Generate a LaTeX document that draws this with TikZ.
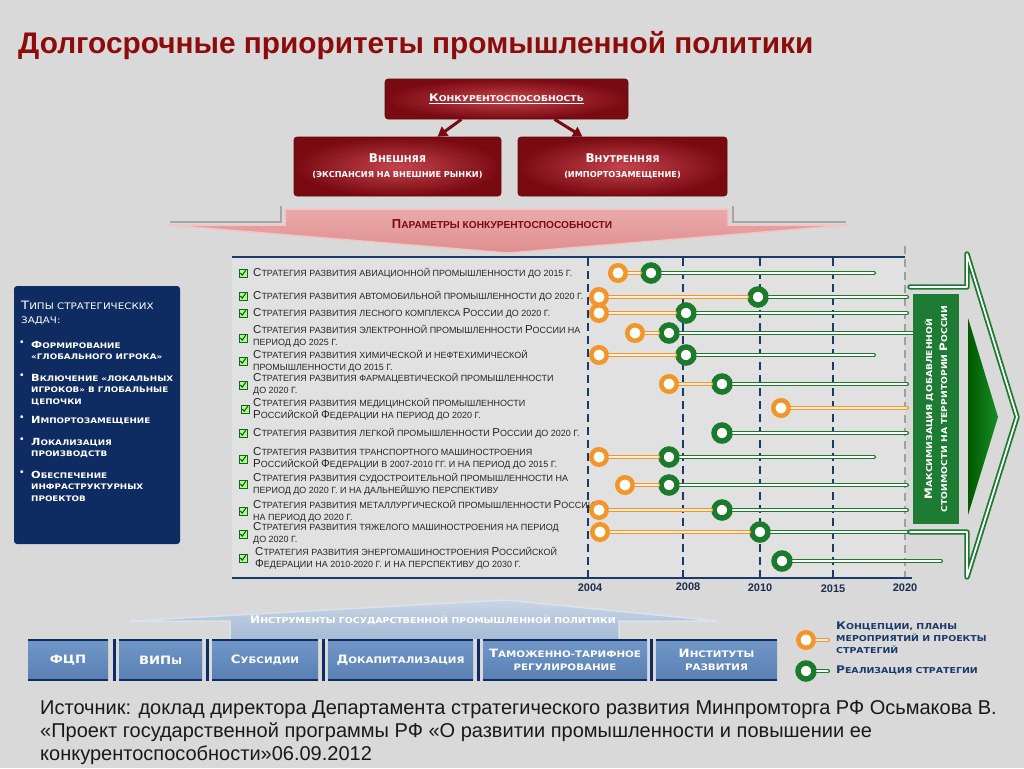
\documentclass[tikz,border=0pt]{standalone}
\usepackage{fontspec}
\setmainfont{Liberation Sans}
\newfontfamily\widefont{DejaVu Sans}
\newfontfamily\wfont[FakeStretch=1.15]{DejaVu Sans}
\usetikzlibrary{calc,arrows.meta}
\makeatletter
\newcommand\smc[1]{{\fontsize{\fpeval{0.78*\f@size}}{\fpeval{0.78*\f@size}}\selectfont\MakeUppercase{#1}}}
\makeatother
\definecolor{bgc}{HTML}{D9D9D9}
\definecolor{titlered}{HTML}{8E0B0B}
\definecolor{redin}{HTML}{C4434B}
\definecolor{redout}{HTML}{7A0A12}
\definecolor{pinkc}{HTML}{DE8E8E}
\definecolor{pinktop}{HTML}{EBAAAA}
\definecolor{pinklight}{HTML}{F2C6C6}
\definecolor{navy}{HTML}{1A3A6C}
\definecolor{boxnavy}{HTML}{0F2C62}
\definecolor{ora}{HTML}{F3962A}
\definecolor{grn}{HTML}{1B7A2C}
\definecolor{dgreen}{HTML}{1E7B34}
\definecolor{steeltop}{HTML}{7097C8}
\definecolor{steelbot}{HTML}{5A80B3}
\definecolor{lsteeltop}{HTML}{C8D5E5}
\definecolor{lsteelbot}{HTML}{A5BAD4}
\definecolor{panelc}{HTML}{E1E1E1}
\definecolor{yearc}{HTML}{1D2F4D}
\newcommand\stratfont{\fontsize{11.5}{12}\selectfont}
\begin{document}
\begin{tikzpicture}[x=1pt,y=-1pt,
  redbox/.style={shade, inner color=redin, outer color=redout, rounded corners=3pt,
    draw=redout!80!black, line width=0.6pt, text=white, align=center, inner sep=0pt,
    font=\widefont\bfseries\fontsize{10.5}{15}\selectfont},
  redarrow/.style={draw=redout, line width=3pt, -{Triangle[length=9.5pt,width=11pt]}},
  oring/.style={circle, draw=ora, fill=white, line width=4.5pt, minimum size=15.5pt, inner sep=0pt, outer sep=2.25pt},
  gring/.style={circle, draw=grn, fill=white, line width=5.5pt, minimum size=16pt, inner sep=0pt, outer sep=2.75pt},
  oline/.style={draw=ora, line width=1.4pt, double=white!85!ora, double distance=1.2pt, line cap=round},
  gline/.style={draw=grn, line width=1.4pt, double=white, double distance=1.2pt, line cap=round},
  strat/.style={anchor=west, inner sep=0pt, align=left, font=\stratfont, text=black!85},
  chk/.style={rectangle, draw=grn!80!black, fill=green!35!white!80!lime, line width=0.8pt,
    minimum size=8pt, inner sep=0pt,
    path picture={\draw[grn!60!black, line width=1pt, shift={(path picture bounding box.center)}]
      (-2.6,0) -- (-0.8,2.2) -- (2.8,-2.8);}},
  dashv/.style={draw=navy, line width=1.5pt, dash pattern=on 8pt off 5pt},
  year/.style={font=\bfseries\fontsize{11}{11}\selectfont, text=yearc, inner sep=0pt},
  bbox/.style={top color=steeltop, bottom color=steelbot, text=white, align=center,
    minimum height=40pt, inner sep=0pt, font=\wfont\bfseries\fontsize{11.5}{13}\selectfont},
  bline/.style={draw=boxnavy, line width=1.8pt},
  sepline/.style={draw=boxnavy, line width=3pt},
  leftitem/.style={anchor=north west, inner sep=0pt, align=left, text=white,
    font=\wfont\bfseries\fontsize{9.8}{11.5}\selectfont},
  bul/.style={anchor=north west, inner sep=0pt, text=white, font=\bfseries\fontsize{10}{11.5}\selectfont},
  legend/.style={anchor=west, inner sep=0pt, align=left, text=navy,
    font=\wfont\bfseries\fontsize{10.5}{12}\selectfont},
  srcline/.style={anchor=base west, inner sep=0pt, text=black!90, font=\fontsize{20}{20}\selectfont}
]
\useasboundingbox (0,0) rectangle (1024,768);
\fill[bgc] (0,0) rectangle (1024,768);

% title
\node[anchor=base west, inner sep=0pt, text=titlered, font=\bfseries\fontsize{29.8}{30}\selectfont]
  (title) at (18,53) {Долгосрочные приоритеты промышленной политики};

% red boxes
\node[redbox, minimum width=243pt, minimum height=40pt] (top) at (506.5,99)
  {\wfont\fontsize{10.3}{12}\selectfont\underline{К\smc{онкурентоспособность}}};
\node[redbox, minimum width=207pt, minimum height=59pt] (ext) at (397.5,166.5)
  {{\fontsize{12}{15}\selectfont В\smc{нешняя}}\\\smc{(экспансия на внешние рынки)}};
\node[redbox, minimum width=209pt, minimum height=59pt] (int) at (622.5,166.5)
  {{\fontsize{12}{15}\selectfont В\smc{нутренняя}}\\\smc{(импортозамещение)}};
\draw[redarrow] ($(top.south)+(-45,0)$) -- ($(ext.north)+(40,0)$);
\draw[redarrow] ($(top.south)+(48,0)$) -- ($(int.north)+(-40,0)$);

% pink arrow
\shade[top color=pinktop, bottom color=pinkc, draw=pinklight, line width=1.5pt]
  (285,209) -- (728,209) -- (728,225) -- (850,225) -- (508,253) -- (166,225) -- (285,225) -- cycle;
\draw[gray!70, line width=1.5pt] (170,222) -- (281,222) -- (281,206);
\draw[gray!70, line width=1.5pt] (733,206) -- (733,222) -- (846,222);
\node[inner sep=0pt, text=redout, font=\bfseries\fontsize{13}{13}\selectfont] (params) at (502,224)
  {П\smc{араметры конкурентоспособности}};

% strategy panel
\fill[panelc] (232,258) rectangle (905,577);
\draw[dashv] (588,258) -- (588,577);
\draw[dashv] (683,258) -- (683,577);
\draw[dashv] (760,258) -- (760,577);
\draw[dashv] (833,258) -- (833,577);
\draw[gray!75, line width=1.5pt, dash pattern=on 8pt off 5pt] (905,246) -- (905,577);
\draw[navy, line width=2pt] (232,257) -- (905,257);
\draw[navy, line width=2pt] (232,578) -- (912,578);
\node[year] (y2004) at (590,588) {2004};
\node[year] (y2008) at (688,587) {2008};
\node[year] (y2010) at (760,588) {2010};
\node[year] (y2015) at (833,589) {2015};
\node[year] (y2020) at (905,588) {2020};

% checkboxes and texts
\node[chk] (c1) at (243,273) {};
\node[strat] (t1) at (253,273) {С\smc{тратегия развития авиационной промышленности до 2015 г.}};
\node[chk] (c2) at (243,296) {};
\node[strat] (t2) at (253,296) {С\smc{тратегия развития автомобильной промышленности до 2020 г.}};
\node[chk] (c3) at (243,313) {};
\node[strat] (t3) at (253,313) {С\smc{тратегия развития лесного комплекса }Р\smc{оссии до 2020 г.}};
\node[chk] (c4) at (243,338) {};
\node[strat] (t4) at (253,336) {С\smc{тратегия развития электронной промышленности }Р\smc{оссии на}\\\smc{период до 2025 г.}};
\node[chk] (c5) at (243,361) {};
\node[strat] (t5) at (253,361) {С\smc{тратегия развития химической и нефтехимической}\\\smc{промышленности до 2015 г.}};
\node[chk] (c6) at (243,385) {};
\node[strat] (t6) at (253,384) {С\smc{тратегия развития фармацевтической промышленности}\\\smc{до 2020 г.}};
\node[chk] (c7) at (245,409) {};
\node[strat] (t7) at (253,409) {С\smc{тратегия развития медицинской промышленности}\\Р\smc{оссийской }Ф\smc{едерации на период до 2020 г.}};
\node[chk] (c8) at (243,433) {};
\node[strat] (t8) at (253,433) {С\smc{тратегия развития легкой промышленности }Р\smc{оссии до 2020 г.}};
\node[chk] (c9) at (243,459) {};
\node[strat] (t9) at (253,458) {С\smc{тратегия развития транспортного машиностроения}\\Р\smc{оссийской }Ф\smc{едерации в 2007-2010 гг. и на период до 2015 г.}};
\node[chk] (c10) at (243,484) {};
\node[strat] (t10) at (253,484) {С\smc{тратегия развития судостроительной промышленности на}\\\smc{период до 2020 г. и на дальнейшую перспективу}};
\node[chk] (c11) at (243,511) {};
\node[strat] (t11) at (253,511) {С\smc{тратегия развития металлургической промышленности }Р\smc{оссии}\\\smc{на период до 2020 г.}};
\node[chk] (c12) at (243,534) {};
\node[strat] (t12) at (253,533) {С\smc{тратегия развития тяжелого машиностроения на период}\\\smc{до 2020 г.}};
\node[chk] (c13) at (243,558) {};
\node[strat] (t13) at (255,558) {С\smc{тратегия развития энергомашиностроения }Р\smc{оссийской}\\Ф\smc{едерации на 2010-2020 г. и на перспективу до 2030 г.}};

% timelines
\node[oring] (o1) at (618,273) {};  \node[gring] (g1) at (651,273) {};  \coordinate (e1) at (874,273);
\node[oring] (o2) at (599,297) {};  \node[gring] (g2) at (758,297) {};  \coordinate (e2) at (907,297);
\node[oring] (o3) at (599,313) {};  \node[gring] (g3) at (686,313) {};  \coordinate (e3) at (907,313);
\node[oring] (o4) at (635,333) {};  \node[gring] (g4) at (669,333) {};  \coordinate (e4) at (913,333);
\node[oring] (o5) at (599,355) {};  \node[gring] (g5) at (686,355) {};  \coordinate (e5) at (874,355);
\node[oring] (o6) at (669,384) {};  \node[gring] (g6) at (722,384) {};  \coordinate (e6) at (907,384);
\node[oring] (o7) at (781,408) {};  \coordinate (e7) at (907,408);
\node[gring] (g8) at (722,433) {};  \coordinate (e8) at (907,433);
\node[oring] (o9) at (599,457) {};  \node[gring] (g9) at (669,457) {};  \coordinate (e9) at (874,457);
\node[oring] (o10) at (625,485) {}; \node[gring] (g10) at (669,485) {}; \coordinate (e10) at (907,485);
\node[oring] (o11) at (599,510) {}; \node[gring] (g11) at (722,510) {}; \coordinate (e11) at (907,510);
\node[oring] (o12) at (600,532) {}; \node[gring] (g12) at (760,532) {}; \coordinate (e12) at (907,532);
\node[gring] (g13) at (782,561) {}; \coordinate (e13) at (941,561);
\draw[oline] (o1) -- (g1);   \draw[gline] (g1) -- (e1);
\draw[oline] (o2) -- (g2);   \draw[gline] (g2) -- (e2);
\draw[oline] (o3) -- (g3);   \draw[gline] (g3) -- (e3);
\draw[oline] (o4) -- (g4);   \draw[gline] (g4) -- (e4);
\draw[oline] (o5) -- (g5);   \draw[gline] (g5) -- (e5);
\draw[oline] (o6) -- (g6);   \draw[gline] (g6) -- (e6);
\draw[oline] (o7) -- (e7);
\draw[gline] (g8) -- (e8);
\draw[oline] (o9) -- (g9);   \draw[gline] (g9) -- (e9);
\draw[oline] (o10) -- (g10); \draw[gline] (g10) -- (e10);
\draw[oline] (o11) -- (g11); \draw[gline] (g11) -- (e11);
\draw[oline] (o12) -- (g12); \draw[gline] (g12) -- (e12);
\draw[gline] (g13) -- (e13);

% green arrow on the right
\draw[draw=grn, line width=1.8pt, double=white, double distance=1.8pt, line join=round, line cap=round]
  (910,287) -- (967,287) -- (967,254) -- (1017,417) -- (967,577) -- (967,532) -- (910,532);
\node[fill=dgreen, minimum width=46pt, minimum height=230pt, inner sep=0pt] (maxbox) at (936,409) {};
\node[rotate=90, text=white, align=center, inner sep=0pt, font=\wfont\bfseries\fontsize{10.3}{15}\selectfont]
  (maxtext) at (maxbox.center) {М\smc{аксимизация добавленной}\\\smc{стоимости на территории }Р\smc{оссии}};
\shade[left color=green!35!black, right color=grn!85!green] (968,318) -- (998,417) -- (968,515) -- cycle;

% left blue box
\node[fill=boxnavy, rounded corners=3pt, minimum width=166pt, minimum height=258pt, inner sep=0pt] (tasks) at (97,415) {};
\node[anchor=north west, inner sep=0pt, align=left, text=white, font=\wfont\fontsize{11.5}{14}\selectfont]
  (taskstitle) at (21,301) {Т\smc{ипы стратегических}\\\smc{задач:}};
\node[bul] (b1d) at (20,341) {•};
\node[leftitem] (i1) at (31,341) {Ф\smc{ормирование}\\\smc{«глобального игрока»}};
\node[bul] (b2d) at (20,374) {•};
\node[leftitem] (i2) at (31,374) {В\smc{ключение «локальных}\\\smc{игроков» в глобальные}\\\smc{цепочки}};
\node[bul] (b3d) at (20,416) {•};
\node[leftitem] (i3) at (31,416) {И\smc{мпортозамещение}};
\node[bul] (b4d) at (20,438) {•};
\node[leftitem] (i4) at (31,438) {Л\smc{окализация}\\\smc{производств}};
\node[bul] (b5d) at (20,471) {•};
\node[leftitem] (i5) at (31,471) {О\smc{беспечение}\\\smc{инфраструктурных}\\\smc{проектов}};

% instruments arrow
\shade[top color=lsteeltop, bottom color=lsteelbot, draw=lsteeltop!70!white, line width=1.5pt]
  (230,640) -- (230,621) -- (130,621) -- (505,600) -- (717,621) -- (619,621) -- (619,640) -- cycle;
\node[inner sep=0pt, text=white, font=\wfont\bfseries\fontsize{10.5}{11}\selectfont] (instr) at (433,620)
  {И\smc{нструменты государственной промышленной политики}};

% bottom boxes
\node[bbox, minimum width=80pt]  (bx1) at (68,660)    {ФЦП};
\node[bbox, minimum width=83pt]  (bx2) at (160.5,660) {ВИП\smc{ы}};
\node[bbox, minimum width=106pt] (bx3) at (265,660)   {С\smc{убсидии}};
\node[bbox, minimum width=145pt] (bx4) at (400.5,660) {Д\smc{окапитализация}};
\node[bbox, minimum width=164pt] (bx5) at (565,660)   {Т\smc{аможенно-тарифное}\\\smc{регулирование}};
\node[bbox, minimum width=121pt] (bx6) at (716.5,660) {И\smc{нституты}\\\smc{развития}};
\foreach \b in {bx1,bx2,bx3,bx4,bx5,bx6}{
  \draw[bline] (\b.north west) -- (\b.north east);
  \draw[bline] (\b.south west) -- (\b.south east);
}
\draw[sepline] (114,639) -- (114,681);
\draw[sepline] (207,639) -- (207,681);
\draw[sepline] (323,639) -- (323,681);
\draw[sepline] (478,639) -- (478,681);
\draw[sepline] (651,639) -- (651,681);

% legend
\node[oring] (lo) at (806,640) {}; \coordinate (loe) at (828,640);
\draw[oline] (lo) -- (loe);
\node[gring] (lg) at (806,671) {}; \coordinate (lge) at (828,671);
\draw[gline] (lg) -- (lge);
\node[legend] (lt1) at (836,638) {К\smc{онцепции, планы}\\\smc{мероприятий и проекты}\\\smc{стратегий}};
\node[legend] (lt2) at (836,670) {Р\smc{еализация стратегии}};

% source
\node[srcline] (src1) at (40,714) {Источник: доклад директора Департамента стратегического развития Минпромторга РФ Осьмакова В.};
\node[srcline] (src2) at (40,737) {«Проект государственной программы РФ «О развитии промышленности и повышении ее};
\node[srcline] (src3) at (40,760) {конкурентоспособности»06.09.2012};
\end{tikzpicture}
\end{document}
